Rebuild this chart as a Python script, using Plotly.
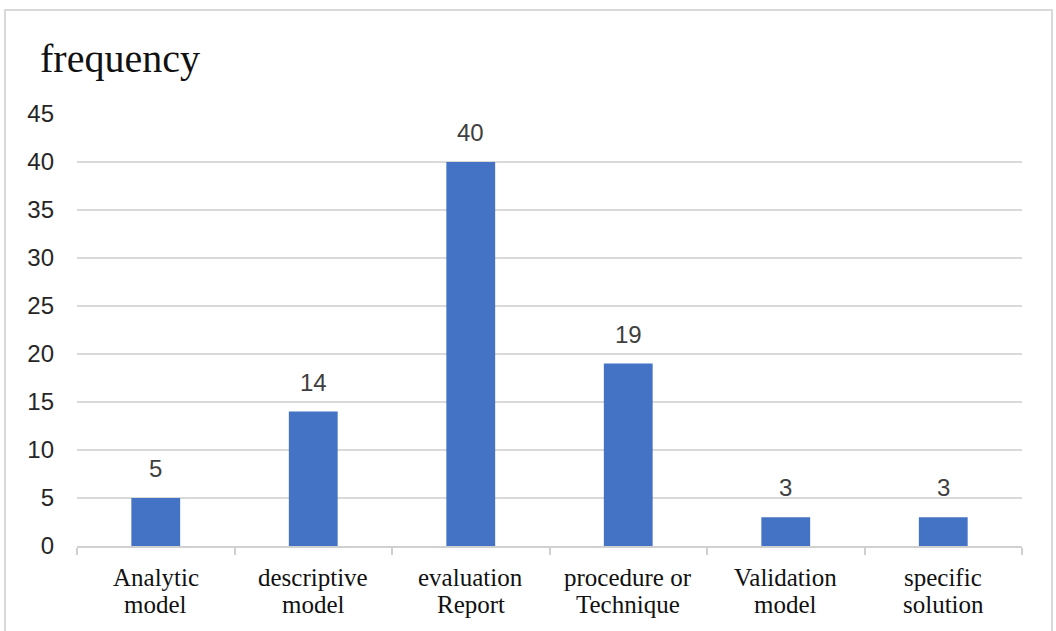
import plotly.graph_objects as go

line1 = ["Analytic", "descriptive", "evaluation", "procedure or", "Validation", "specific"]
line2 = ["model", "model", "Report", "Technique", "model", "solution"]
categories = [a + " " + b for a, b in zip(line1, line2)]
values = [5, 14, 40, 19, 3, 3]
y_ticks = [0, 5, 10, 15, 20, 25, 30, 35, 40, 45]

W, H = 1056, 631
L, R, T, B = 77, 34, 114, 85
pw, ph = W - L - R, H - T - B

def px(x):
    return (x - L) / pw

def py(y):
    return (H - B - y) / ph

fig = go.Figure(go.Bar(
    x=categories, y=values,
    marker=dict(color="#4472C4", line=dict(width=0)),
    hoverinfo="x+y",
))

annotations = [dict(
    text="frequency", xref="paper", yref="paper",
    x=px(38), y=py(58), xanchor="left", yanchor="middle",
    showarrow=False,
    font=dict(family="Liberation Serif", size=40, color="#111111"),
)]
for c, v in zip(categories, values):
    annotations.append(dict(
        text=str(v), x=c, y=v, xref="x", yref="y",
        xanchor="center", yanchor="bottom", yshift=14, showarrow=False,
        font=dict(family="Liberation Sans", size=24, color="#404040"),
    ))
for c, a, b in zip(categories, line1, line2):
    annotations.append(dict(
        text=a, x=c, xref="x", yref="paper", y=py(577),
        xanchor="center", yanchor="middle", showarrow=False,
        font=dict(family="Liberation Serif", size=25, color="#111111"),
    ))
    annotations.append(dict(
        text=b, x=c, xref="x", yref="paper", y=py(604),
        xanchor="center", yanchor="middle", showarrow=False,
        font=dict(family="Liberation Serif", size=25, color="#111111"),
    ))

fig.update_layout(
    width=W, height=H,
    margin=dict(l=L, r=R, t=T, b=B),
    paper_bgcolor="white", plot_bgcolor="white",
    bargap=0.69,
    showlegend=False,
    xaxis=dict(
        showline=True, linecolor="#d0d0d0", linewidth=1.5,
        ticks="outside", tickson="boundaries", ticklen=7, tickcolor="#d0d0d0", tickwidth=1.5,
        showticklabels=False, showgrid=False,
    ),
    yaxis=dict(
        range=[0, 45], tickvals=y_ticks,
        showgrid=True, gridcolor="#d9d9d9", gridwidth=1.5,
        zeroline=False, showline=False, ticks="",
        tickfont=dict(family="Liberation Sans", size=24, color="#262626"),
        ticklabelstandoff=22,
    ),
    annotations=annotations,
    shapes=[dict(
        type="rect", xref="paper", yref="paper",
        x0=px(5), x1=px(1052), y0=py(645), y1=py(10),
        line=dict(color="#d9d9d9", width=2), fillcolor="rgba(0,0,0,0)", layer="below",
    )],
)

fig.write_html("out.html", config={"displayModeBar": False},
               post_script="document.body.style.margin='0';")
